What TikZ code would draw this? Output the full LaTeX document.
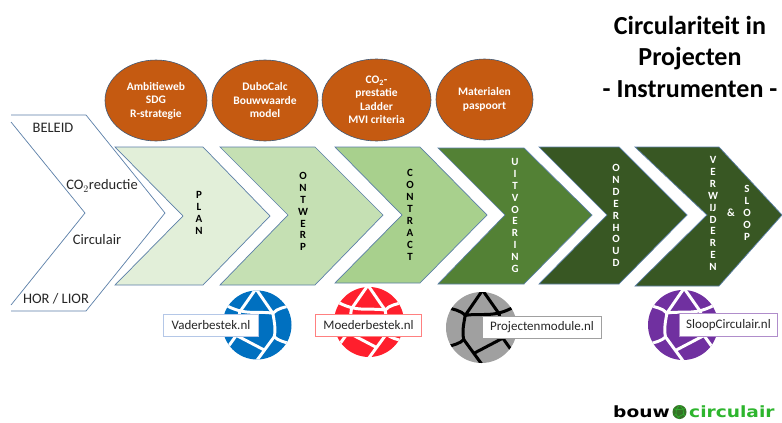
\documentclass[tikz,border=0pt]{standalone}
\usepackage{fontspec}
\setmainfont{Carlito}
\newfontfamily\logofont{DejaVu Sans}
\definecolor{planc}{HTML}{E2EFD9}
\definecolor{ontw}{HTML}{C5E0B3}
\definecolor{contr}{HTML}{A8D08D}
\definecolor{uitv}{HTML}{538135}
\definecolor{darkg}{HTML}{385723}
\definecolor{edgeb}{HTML}{5B7FA8}
\definecolor{ellc}{HTML}{C55A11}
\definecolor{bluec}{HTML}{0070C0}
\definecolor{redc}{HTML}{FF1F2D}
\definecolor{grayc}{HTML}{A0A0A0}
\definecolor{purc}{HTML}{7030A0}
\definecolor{logog}{HTML}{2DB52D}
\definecolor{siteblue}{HTML}{B4C7E7}
\tikzset{
  chevshape/.style={draw=edgeb,line width=0.7pt,line join=miter},
  tool/.style={ellipse,draw=edgeb!70!black,line width=0.6pt,fill=ellc,inner sep=0pt},
  tooltext/.style={text=white,font=\fontsize{11.5}{13.5}\selectfont\bfseries,align=center,inner sep=0pt},
  vert/.style={font=\fontsize{11}{11.9}\selectfont\bfseries,align=center,inner sep=0pt},
  lab/.style={font=\fontsize{14.5}{16}\selectfont,inner sep=0pt,text=black!85},
  site/.style={fill=white,line width=1pt,inner sep=0pt,anchor=north west,font=\fontsize{13}{15}\selectfont,text=black!85,align=center},
  titletext/.style={font=\fontsize{26}{31.5}\selectfont\bfseries,align=center,inner sep=0pt},
  logotext/.style={inner sep=0pt,xscale=1.2,transform shape,font=\logofont\fontsize{15.5}{16}\selectfont\bfseries},
}
\usetikzlibrary{shapes.geometric}
\newcommand{\chevron}[8]{% fill, left, topright, tip, notch, top, bottom, mid
  \path[chevshape,fill=#1] (#2,#6) -- (#3,#6) -- (#4,#8) -- (#3,#7) -- (#2,#7) -- (#5,#8) -- cycle;}
\newcommand{\globemark}[6]{% cx, cy, r, flip, fill, line
  \begin{scope}[shift={(#1,#2)},x={#4*#3pt},y={-#3pt}]
    \fill[#5] (0,0) circle [radius=1];
    \clip (0,0) circle [radius=1];
    \begin{scope}[draw=#6,line width={#3*0.085pt},line cap=round,line join=round]
      \draw (0.03,-1.05) -- (-0.46,-0.34) .. controls (0,-0.42) and (0.35,-0.25) .. (0.95,-0.6);
      \draw (0.03,-1.05) -- (0.5,-0.38) -- (0.6,0.3) -- (0.9,0.72);
      \draw (-1,-0.58) .. controls (-0.8,-0.5) and (-0.6,-0.5) .. (-0.46,-0.34) .. controls (-0.5,-0.1) and (-0.55,0.1) .. (-0.5,0.34) .. controls (-0.6,0.45) and (-0.8,0.5) .. (-1,0.55);
      \draw (-0.5,0.34) -- (0.02,1.05);
      \draw (-0.2,0.72) -- (0.6,0.3);
    \end{scope}
  \end{scope}}
\begin{document}
\begin{tikzpicture}[x=1pt,y=-1pt]
\useasboundingbox (0,0) rectangle (782,423);
\fill[white] (0,0) rectangle (782,423);

% beleid chevron (open at its left)
\draw[chevshape] (11,115) -- (86,115) -- (165,213) -- (86,311) -- (11,311);
\draw[chevshape] (11,122) -- (85,213) -- (11,305);

% process chevrons
\chevron{planc}{115}{203}{270}{183}{147}{285}{216}
\chevron{ontw}{220}{315}{383}{288}{147}{285}{215}
\chevron{contr}{335}{420}{487}{402}{147}{283}{215}
\chevron{uitv}{438}{524}{592}{505}{148}{284}{215}
\chevron{darkg}{539}{619}{687}{607}{147}{284}{215}
\chevron{darkg}{635}{719}{782}{707}{147}{286}{215}

% tool ellipses
\node[tool,minimum width=102pt,minimum height=81pt] (e1) at (156,100.5) {};
\node[tool,minimum width=106pt,minimum height=81pt] (e2) at (265,100.5) {};
\node[tool,minimum width=109pt,minimum height=82pt] (e3) at (376.5,100) {};
\node[tool,minimum width=97pt,minimum height=81pt] (e4) at (484.5,99.5) {};
\node[tooltext] (t1) at (e1) {Ambitieweb\\SDG\\R-strategie};
\node[tooltext] (t2) at (e2) {DuboCalc\\Bouwwaarde\\model};
\node[tooltext] (t3) at (e3) {CO$_{\mathbf 2}$-\\prestatie\\Ladder\\MVI criteria};
\node[tooltext] (t4) at (e4) {Materialen\\paspoort};

% stacked phase names
\node[vert] (plan) at (199,213) {P\\L\\A\\N};
\node[vert] (ontwerp) at (303,211.5) {O\\N\\T\\W\\E\\R\\P};
\node[vert] (contract) at (410,215) {C\\O\\N\\T\\R\\A\\C\\T};
\node[vert,text=white] (uitvoering) at (515,215.5) {U\\I\\T\\V\\O\\E\\R\\I\\N\\G};
\node[vert,text=white] (onderhoud) at (616,215.5) {O\\N\\D\\E\\R\\H\\O\\U\\D};
\node[vert,text=white] (verw) at (713,213.5) {V\\E\\R\\W\\IJ\\D\\E\\R\\E\\N};
\node[vert,text=white] (en) at (731,213) {\&};
\node[vert,text=white] (sloop) at (747,213) {S\\L\\O\\O\\P};

% policy labels
\node[lab] (beleid) at (53,128) {BELEID};
\node[lab] (co) at (102,186) {CO$_{2}$reductie};
\node[lab] (circ) at (97,240) {Circulair};
\node[lab] (hor) at (56,299) {HOR / LIOR};

% globes and site labels
\globemark{257}{325}{34.5}{-1}{bluec}{white}
\globemark{369}{322}{35}{-1}{redc}{white}
\globemark{481.5}{327.5}{35.5}{1}{grayc}{black}
\globemark{683}{325}{35}{1}{purc}{white}
\node[site,draw=siteblue,minimum width=95pt,minimum height=22pt] (vb) at (163,314) {Vaderbestek.nl};
\node[site,draw=red!50,minimum width=106pt,minimum height=22pt] (mb) at (315,314) {Moederbestek.nl};
\node[site,draw=grayc,minimum width=119pt,minimum height=22pt] (pm) at (482,316) {Projectenmodule.nl};
\node[site,draw=purc!55,minimum width=98pt,minimum height=23pt] (sc) at (679,313) {SloopCirculair.nl};

% title
\node[titletext] (title) at (690,56.5) {Circulariteit in\\Projecten\\- Instrumenten -};

% logo
\node[logotext,anchor=east] (bouw) at (670,412) {bouw};
\globemark{679.5}{412}{7}{1}{darkg!70!logog}{logog}
\node[logotext,anchor=west,text=logog] (circulair) at (689,412) {circulair};
\end{tikzpicture}
\end{document}
